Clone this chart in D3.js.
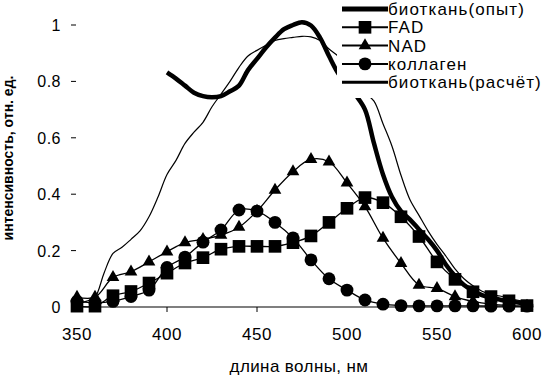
<!DOCTYPE html>
<html>
<head>
<meta charset="utf-8">
<script src="https://cdn.jsdelivr.net/npm/d3@7"></script>
<style>
  body { margin: 0; background: #fff; }
  svg { display: block; font-family: "Liberation Sans", Arial, sans-serif; }
</style>
</head>
<body>
<div id="chart"></div>
<script>
// wavelengths of the marker series (nm)
const markerNm = [350, 360, 370, 380, 390, 400, 410, 420, 430, 440, 450, 460, 470,
                  480, 490, 500, 510, 520, 530, 540, 550, 560, 570, 580, 590, 600];
const fad = [0.003, 0.003, 0.04, 0.055, 0.085, 0.12, 0.156, 0.175, 0.205, 0.215, 0.215, 0.215, 0.228,
             0.252, 0.30, 0.35, 0.388, 0.37, 0.32, 0.25, 0.16, 0.098, 0.054, 0.037, 0.022, 0.005];
const nad = [0.035, 0.035, 0.105, 0.125, 0.16, 0.196, 0.228, 0.24, 0.255, 0.283, 0.34, 0.415, 0.48,
             0.524, 0.515, 0.44, 0.356, 0.244, 0.155, 0.078, 0.066, 0.037, 0.02, 0.01, 0.005, 0.003];
const collagen = [0.02, 0.015, 0.02, 0.037, 0.06, 0.14, 0.177, 0.23, 0.273, 0.344, 0.34, 0.30, 0.245,
                  0.167, 0.10, 0.06, 0.025, 0.01, 0.005, 0.004, 0.004, 0.004, 0.004, 0.003, 0.003, 0.003];

// tissue, measured (thick line)
const expNm = [400, 405, 410, 415, 420, 425, 430, 435, 440, 445, 450, 455, 460, 465, 470, 475, 480,
               485, 490, 495, 500, 505, 510, 515, 520, 525, 530, 535, 540, 545, 550, 555, 560, 565,
               570, 575, 580, 585, 590, 595, 600];
const expVal = [0.832, 0.81, 0.785, 0.76, 0.748, 0.744, 0.748, 0.765, 0.785, 0.84, 0.88, 0.92, 0.955,
                0.985, 1.0, 1.01, 0.998, 0.955, 0.89, 0.83, 0.79, 0.75, 0.70, 0.58, 0.47, 0.39, 0.34,
                0.31, 0.275, 0.24, 0.20, 0.15, 0.11, 0.078, 0.058, 0.042, 0.033, 0.026, 0.02, 0.016, 0.013];

// tissue, calculated (thin line)
const calcNm = [350, 355, 360, 365, 370, 375, 380, 385, 390, 395, 400, 405, 410, 415, 420, 425, 430,
                435, 440, 445, 450, 455, 460, 465, 470, 475, 480, 485, 490, 495, 500, 505, 510, 515,
                520, 525, 530, 535, 540, 545, 550, 555, 560, 565, 570, 575, 580, 585, 590, 595, 600];
const calcVal = [0.01, 0.02, 0.035, 0.12, 0.19, 0.212, 0.24, 0.27, 0.32, 0.39, 0.47, 0.52, 0.58, 0.62,
                 0.655, 0.71, 0.755, 0.80, 0.85, 0.89, 0.91, 0.928, 0.945, 0.952, 0.956, 0.96, 0.958,
                 0.945, 0.915, 0.89, 0.85, 0.80, 0.76, 0.73, 0.65, 0.57, 0.467, 0.38, 0.325, 0.27,
                 0.222, 0.18, 0.135, 0.10, 0.075, 0.056, 0.045, 0.039, 0.031, 0.024, 0.019];

const xTicks = [350, 400, 450, 500, 550, 600];
const yTicks = [0, 0.2, 0.4, 0.6, 0.8, 1];
const yTickLabels = ["0", "0.2", "0.4", "0.6", "0.8", "1"];
const legendLabels = ["биоткань(опыт)", "FAD", "NAD", "коллаген", "биоткань(расчёт)"];

const width = 546, height = 376;

const svg = d3.select("#chart").append("svg")
  .attr("width", width)
  .attr("height", height);

const x = d3.scaleLinear().domain([350, 600]).range([77, 527]);
const y = d3.scaleLinear().domain([0, 1]).range([307, 25]);

// x axis: line, labels; tick marks only show at 400 and 450 in the original
svg.append("line")
  .attr("x1", x(350)).attr("x2", x(600))
  .attr("y1", y(0)).attr("y2", y(0))
  .attr("stroke", "#000").attr("stroke-width", 1.2);

svg.append("g").selectAll("line")
  .data(xTicks.filter(d => d === 400 || d === 450))
  .join("line")
  .attr("x1", d => x(d)).attr("x2", d => x(d))
  .attr("y1", y(0)).attr("y2", y(0) + 5)
  .attr("stroke", "#000");

svg.append("g").selectAll("text")
  .data(xTicks)
  .join("text")
  .attr("x", d => x(d))
  .attr("y", 340)
  .attr("text-anchor", "middle")
  .style("font-size", "17px")
  .style("letter-spacing", "0.5px")
  .text(d => d);

// y axis: no line, just short dashes and labels
svg.append("g").selectAll("line")
  .data(yTicks)
  .join("line")
  .attr("x1", 71).attr("x2", 76)
  .attr("y1", d => y(d)).attr("y2", d => y(d))
  .attr("stroke", "#000");

svg.append("g").selectAll("text")
  .data(yTicks)
  .join("text")
  .attr("x", 61)
  .attr("y", d => y(d) + 6)
  .attr("text-anchor", "end")
  .style("font-size", "16px")
  .style("letter-spacing", "0.5px")
  .text((d, i) => yTickLabels[i]);

// axis titles
svg.append("text")
  .attr("x", 299)
  .attr("y", 372)
  .attr("text-anchor", "middle")
  .style("font-size", "17px")
  .style("letter-spacing", "0.4px")
  .text("длина волны, нм");

svg.append("text")
  .attr("transform", "translate(13,158) rotate(-90)")
  .attr("text-anchor", "middle")
  .style("font-size", "14px")
  .style("font-weight", "bold")
  .text("интенсивность, отн. ед.");

// lines
const line = d3.line()
  .x(d => x(d[0]))
  .y(d => y(d[1]))
  .curve(d3.curveCatmullRom);

const zip = (a, b) => a.map((v, i) => [v, b[i]]);

svg.append("path")
  .datum(zip(expNm, expVal))
  .attr("d", line)
  .attr("fill", "none")
  .attr("stroke", "#000")
  .attr("stroke-width", 4.5);

const markerSeries = [
  { values: fad, symbol: d3.symbolSquare, size: 160 },
  { values: nad, symbol: d3.symbolTriangle, size: 70 },
  { values: collagen, symbol: d3.symbolCircle, size: 130 }
];

markerSeries.forEach(s => {
  const pts = zip(markerNm, s.values);
  svg.append("path")
    .datum(pts)
    .attr("d", line)
    .attr("fill", "none")
    .attr("stroke", "#000")
    .attr("stroke-width", 1.3);
  svg.append("g").selectAll("path")
    .data(pts)
    .join("path")
    .attr("transform", d => `translate(${x(d[0])},${y(d[1])})`)
    .attr("d", d3.symbol(s.symbol, s.size))
    .attr("fill", "#000");
});

svg.append("path")
  .datum(zip(calcNm, calcVal))
  .attr("d", line)
  .attr("fill", "none")
  .attr("stroke", "#000")
  .attr("stroke-width", 1.2);

// legend (white box over the plot)
const legend = svg.append("g");
legend.append("rect")
  .attr("x", 337).attr("y", 0)
  .attr("width", 209).attr("height", 98)
  .attr("fill", "#fff");

const legendItems = [
  { sw: 5, symbol: null },
  { sw: 2, symbol: d3.symbolSquare, size: 160 },
  { sw: 2, symbol: d3.symbolTriangle, size: 70 },
  { sw: 2, symbol: d3.symbolCircle, size: 130 },
  { sw: 3, symbol: null }
];

const rows = legend.selectAll("g")
  .data(legendItems)
  .join("g")
  .attr("transform", (d, i) => `translate(0,${9 + i * 18.3})`);

rows.append("line")
  .attr("x1", 342).attr("x2", 388)
  .attr("stroke", "#000")
  .attr("stroke-width", d => d.sw);

rows.filter(d => d.symbol)
  .append("path")
  .attr("transform", "translate(365,0)")
  .attr("d", d => d3.symbol(d.symbol, d.size)())
  .attr("fill", "#000");

rows.append("text")
  .attr("x", 388)
  .attr("y", 6)
  .style("font-size", "17px")
  .style("letter-spacing", "1.1px")
  .text((d, i) => legendLabels[i]);
</script>
</body>
</html>
